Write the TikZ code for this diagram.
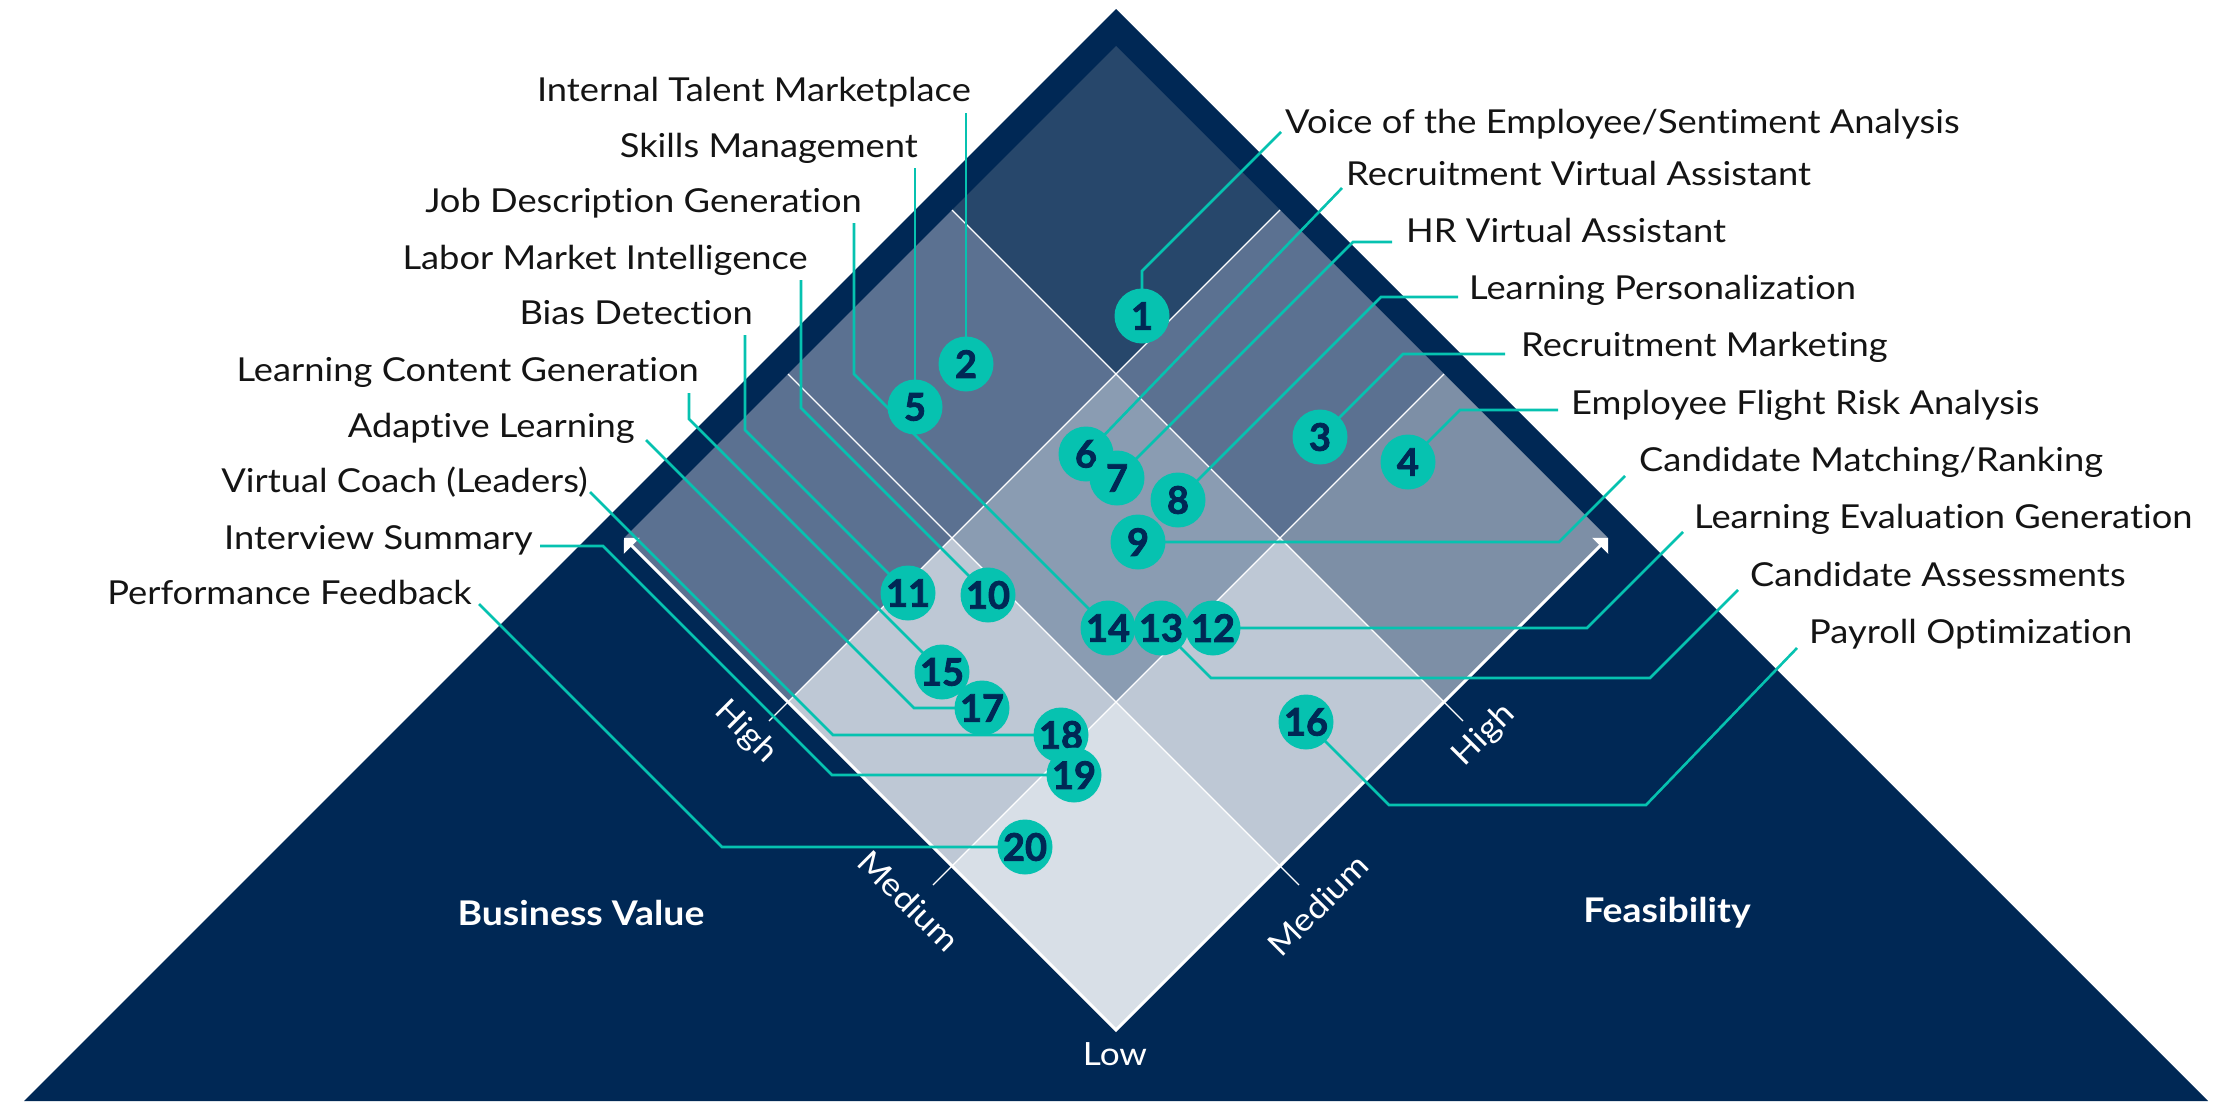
\documentclass[tikz,border=0pt]{standalone}
\usepackage{fontspec}
\setmainfont{Lato}[Ligatures=NoCommon, FakeStretch=1.1]
\newfontfamily\numfont{Lato}[FakeBold=2]
\usetikzlibrary{arrows.meta,calc}

\definecolor{navy}{HTML}{002855}
\definecolor{accent}{HTML}{06C2B0}
\definecolor{inkc}{HTML}{141414}
\definecolor{cLow}{HTML}{D8DFE7}
\definecolor{cLight}{HTML}{BEC8D5}
\definecolor{cMid}{HTML}{8A9CB2}
\definecolor{cRight}{HTML}{7D8FA6}
\definecolor{cSlate}{HTML}{5B7191}
\definecolor{cTop}{HTML}{27476B}

\tikzset{
  lab/.style={font=\fontsize{33}{40}\selectfont, text=inkc, inner sep=0pt},
  numc/.style={circle, fill=accent, minimum size=55pt, inner sep=0pt, text=navy,
    font=\numfont\bfseries\fontsize{38}{38}\selectfont},
  conn/.style={draw=accent, line width=2.6pt},
  gridline/.style={draw=white, line width=1.2pt},
  axisline/.style={draw=white, line width=3pt},
  axislab/.style={text=white, font=\fontsize{32}{38}\selectfont, inner sep=0pt},
  axistitle/.style={text=white, font=\fontsize{34}{40}\selectfont\bfseries, inner sep=0pt}
}

\newcommand\cellfill[3]{\fill[#3] (#1,#2) -- ++(1,0) -- ++(0,1) -- ++(-1,0) -- cycle;}

\begin{document}
\begin{tikzpicture}[x=1pt,y=-1pt]
\useasboundingbox (0,0) rectangle (2227,1101);

% navy pyramid
\fill[navy] (1116,9) -- (2208,1101) -- (24,1101) -- cycle;

% 3x3 matrix: u = feasibility, v = business value
\begin{scope}[shift={(1116,1030)}, x={(164pt,164pt)}, y={(-164pt,164pt)}]
  \cellfill{0}{0}{cLow}
  \cellfill{1}{0}{cLight}
  \cellfill{0}{1}{cLight}
  \cellfill{1}{1}{cMid}
  \cellfill{2}{0}{cRight}
  \cellfill{0}{2}{cSlate}
  \cellfill{2}{1}{cSlate}
  \cellfill{1}{2}{cSlate}
  \cellfill{2}{2}{cTop}
  % grid lines and ticks
  \draw[gridline] (1,-0.116) -- (1,3);
  \draw[gridline] (2,-0.116) -- (2,3);
  \draw[gridline] (-0.116,1) -- (3,1);
  \draw[gridline] (-0.116,2) -- (3,2);
  % axes
  \draw[axisline, line join=miter, {Triangle[length=11pt,width=22pt]}-{Triangle[length=11pt,width=22pt]}]
    (0,3) -- (0,0) -- (3,0);
\end{scope}

% axis labels
\node[axislab] (low) at (1115,1054) {Low};
\node[axislab, rotate=-45] (bvmed) at (909,901) {Medium};
\node[axislab, rotate=-45] (bvhigh) at (746,732) {High};
\node[axislab, rotate=45] (fmed) at (1318,905) {Medium};
\node[axislab, rotate=45] (fhigh) at (1484,735) {High};
\node[axistitle] (bv) at (581,913) {Business Value};
\node[axistitle] (fe) at (1667,913) {Feasibility};

% use-case labels, left column
\node[lab, anchor=base east] (itm) at (971,101) {Internal Talent Marketplace};
\node[lab, anchor=base east] (skm) at (918,157) {Skills Management};
\node[lab, anchor=base east] (jdg) at (862,212) {Job Description Generation};
\node[lab, anchor=base east] (lmi) at (808,269) {Labor Market Intelligence};
\node[lab, anchor=base east] (bd) at (753,324) {Bias Detection};
\node[lab, anchor=base east] (lcg) at (699,381) {Learning Content Generation};
\node[lab, anchor=base east] (al) at (635,437) {Adaptive Learning};
\node[lab, anchor=base east] (vc) at (588,492) {Virtual Coach (Leaders)};
\node[lab, anchor=base east] (is) at (533,549) {Interview Summary};
\node[lab, anchor=base east] (pf) at (472,604) {Performance Feedback};

% use-case labels, right column
\node[lab, anchor=base west] (voe) at (1285,133) {Voice of the Employee/Sentiment Analysis};
\node[lab, anchor=base west] (rva) at (1346,185) {Recruitment Virtual Assistant};
\node[lab, anchor=base west] (hrva) at (1406,242) {HR Virtual Assistant};
\node[lab, anchor=base west] (lp) at (1469,299) {Learning Personalization};
\node[lab, anchor=base west] (rm) at (1521,356) {Recruitment Marketing};
\node[lab, anchor=base west] (efra) at (1571,414) {Employee Flight Risk Analysis};
\node[lab, anchor=base west] (cmr) at (1639,471) {Candidate Matching/Ranking};
\node[lab, anchor=base west] (leg) at (1694,528) {Learning Evaluation Generation};
\node[lab, anchor=base west] (ca) at (1750,586) {Candidate Assessments};
\node[lab, anchor=base west] (po) at (1809,643) {Payroll Optimization};

% marker positions
\coordinate (p1) at (1142,316);
\coordinate (p2) at (966,364);
\coordinate (p3) at (1320,437);
\coordinate (p4) at (1408,462);
\coordinate (p5) at (915,407);
\coordinate (p6) at (1086,454);
\coordinate (p7) at (1117,478);
\coordinate (p8) at (1178,500);
\coordinate (p9) at (1138,542);
\coordinate (p10) at (988,595);
\coordinate (p11) at (908,593);
\coordinate (p12) at (1213,628);
\coordinate (p13) at (1161,628);
\coordinate (p14) at (1108,628);
\coordinate (p15) at (942,672);
\coordinate (p16) at (1306,722);
\coordinate (p17) at (982,708);
\coordinate (p18) at (1061,735);
\coordinate (p19) at (1074,775);
\coordinate (p20) at (1025,847);

% leader lines, left column
\draw[conn] ([shift={(-5,12)}]itm.base east) -- (p2);
\draw[conn] ([shift={(-3,11)}]skm.base east) -- (p5);
\draw[conn] ([shift={(-8,11)}]jdg.base east) -- (854,374) -- (p14);
\draw[conn] ([shift={(-7,11)}]lmi.base east) -- (801,408) -- (p10);
\draw[conn] ([shift={(-8,11)}]bd.base east) -- (745,430) -- (p11);
\draw[conn] ([shift={(-10,12)}]lcg.base east) -- (689,419) -- (p15);
\draw[conn] ([shift={(11,3)}]al.base east) -- (914,708) -- (p17);
\draw[conn] ([shift={(2,0)}]vc.base east) -- (833,735) -- (p18);
\draw[conn] ([shift={(7,-3)}]is.base east) -- (603,546) -- (832,775) -- (p19);
\draw[conn] ([shift={(7,0)}]pf.base east) -- (722,847) -- (p20);

% leader lines, right column
\draw[conn] ([shift={(-4,-1)}]voe.base west) -- (1142,271) -- (p1);
\draw[conn] ([shift={(-4,3)}]rva.base west) -- (p6);
\draw[conn] ([shift={(-14,0)}]hrva.base west) -- (1353,242) -- (p7);
\draw[conn] ([shift={(-11,-2)}]lp.base west) -- (1381,297) -- (p8);
\draw[conn] ([shift={(-16,-2)}]rm.base west) -- (1403,354) -- (p3);
\draw[conn] ([shift={(-13,-4)}]efra.base west) -- (1460,410) -- (p4);
\draw[conn] ([shift={(-14,5)}]cmr.base west) -- (1559,542) -- (p9);
\draw[conn] ([shift={(-11,4)}]leg.base west) -- (1587,628) -- (p12);
\draw[conn] ([shift={(-12,4)}]ca.base west) -- (1650,678) -- (1211,678) -- (p13);
\draw[conn] ([shift={(-12,5)}]po.base west) -- (1646,805) -- (1389,805) -- (p16);

% numbered markers
\foreach \k in {1,2,3,4,5,6,8,9,10,11,12,14,13,15,16,17,18,19,20,7}{
  \node[numc] (m\k) at (p\k) {\k};
}
\end{tikzpicture}
\end{document}
